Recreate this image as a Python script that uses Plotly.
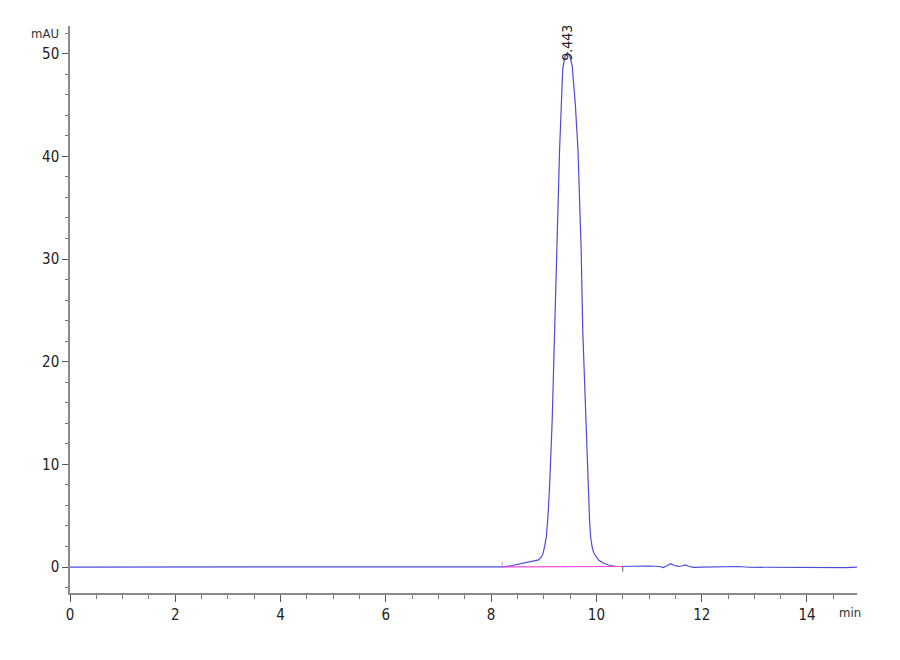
"""
HPLC chromatogram, single main peak at 9.443 min
"""

import plotly.graph_objects as go

# signal trace (min, mAU)
time_min = [
    0.0, 2.0, 4.0, 6.0, 8.0, 8.23, 8.40, 8.61, 8.78, 8.90, 8.96, 8.99,
    9.02, 9.05, 9.08, 9.11, 9.16, 9.21, 9.24, 9.30, 9.36, 9.40, 9.45,
    9.50, 9.54, 9.60, 9.65, 9.71, 9.74, 9.80, 9.84, 9.87, 9.89, 9.92,
    9.95, 10.00, 10.04, 10.13, 10.25, 10.39, 10.55, 10.80, 11.00, 11.20,
    11.27, 11.35, 11.41, 11.48, 11.55, 11.62, 11.69, 11.76, 11.85, 12.00,
    12.30, 12.70, 12.90, 13.50, 14.00, 14.50, 14.65, 14.75, 14.95,
]
signal_mau = [
    0.0, 0.0, 0.0, 0.0, 0.0, 0.02, 0.15, 0.39, 0.55, 0.70, 1.0, 1.4,
    2.1, 3.0, 5.0, 7.8, 14.3, 24.1, 30.9, 40.6, 48.5, 49.7, 50.1,
    49.7, 48.8, 45.0, 40.6, 30.9, 23.1, 14.3, 7.8, 4.5, 2.95, 1.9,
    1.36, 0.9, 0.68, 0.39, 0.15, 0.05, 0.06, 0.10, 0.10, 0.05,
    -0.05, 0.15, 0.32, 0.15, 0.07, 0.10, 0.20, 0.05, -0.03, 0.0,
    0.05, 0.05, -0.02, -0.02, -0.02, -0.02, -0.08, -0.05, 0.0,
]

# integration baseline under the peak
baseline_min = [8.21, 10.50]
baseline_mau = [0.02, 0.05]

peak_rt = 9.443
peak_height = 50.1
peak_label = '9.443'

x_ticks = [0, 2, 4, 6, 8, 10, 12, 14]
y_ticks = [0, 10, 20, 30, 40, 50]

FONT = 'DejaVu Sans Condensed, Liberation Sans Narrow, Liberation Sans, Arial, sans-serif'
AXIS_COLOR = '#8a8a8a'
TRACE_COLOR = '#4b4bdc'
BASELINE_COLOR = '#ee44dd'

fig = go.Figure()

fig.add_trace(go.Scatter(
    x=time_min, y=signal_mau,
    mode='lines',
    line=dict(color=TRACE_COLOR, width=1.2),
    hoverinfo='x+y',
))

fig.add_trace(go.Scatter(
    x=baseline_min, y=baseline_mau,
    mode='lines',
    line=dict(color=BASELINE_COLOR, width=1.2),
))

# start / end markers of the integration
fig.add_trace(go.Scatter(
    x=[baseline_min[0], baseline_min[0]],
    y=[baseline_mau[0], baseline_mau[0] + 0.5],
    mode='lines',
    line=dict(color='#c0a0b0', width=1),
))
fig.add_trace(go.Scatter(
    x=[baseline_min[1], baseline_min[1]],
    y=[baseline_mau[1], baseline_mau[1] - 0.5],
    mode='lines',
    line=dict(color='#555555', width=1),
))

fig.add_annotation(
    x=peak_rt, y=peak_height, text=peak_label,
    textangle=-90, showarrow=False,
    xanchor='center', yanchor='bottom', yshift=-10,
    font=dict(family=FONT, size=14, color='#222222'),
)

# axis unit labels placed like the instrument software does
fig.add_annotation(
    xref='paper', x=0, xanchor='right', xshift=-9,
    yref='y', y=52, yanchor='middle',
    text='mAU', showarrow=False,
    font=dict(family=FONT, size=13, color='#333333'),
)
fig.add_annotation(
    xref='x', x=14.82, xanchor='center',
    yref='paper', y=0, yanchor='top', yshift=-10,
    text='min', showarrow=False,
    font=dict(family=FONT, size=13, color='#333333'),
)

# the page body adds 8px, so margins are shifted by that amount
fig.update_layout(
    width=900, height=660,
    margin=dict(l=62, r=51, t=18, b=75),
    paper_bgcolor='white',
    plot_bgcolor='white',
    showlegend=False,
    font=dict(family=FONT, size=15, color='#222222'),
)

fig.update_xaxes(
    range=[0, 14.95],
    tickvals=x_ticks,
    ticks='outside', ticklen=7, tickwidth=1, tickcolor='#555555',
    minor=dict(dtick=0.5, tick0=0, ticks='outside', ticklen=4, tickcolor='#777777'),
    showline=True, linecolor=AXIS_COLOR, linewidth=1.5,
    showgrid=False, zeroline=False,
)
fig.update_yaxes(
    range=[-2.53, 52.7],
    tickvals=y_ticks,
    ticks='outside', ticklen=6, tickwidth=1, tickcolor='#555555',
    minor=dict(dtick=2, tick0=0, ticks='outside', ticklen=3, tickcolor='#777777'),
    showline=True, linecolor=AXIS_COLOR, linewidth=1.5,
    showgrid=False, zeroline=False,
)

fig.write_html("out.html")
